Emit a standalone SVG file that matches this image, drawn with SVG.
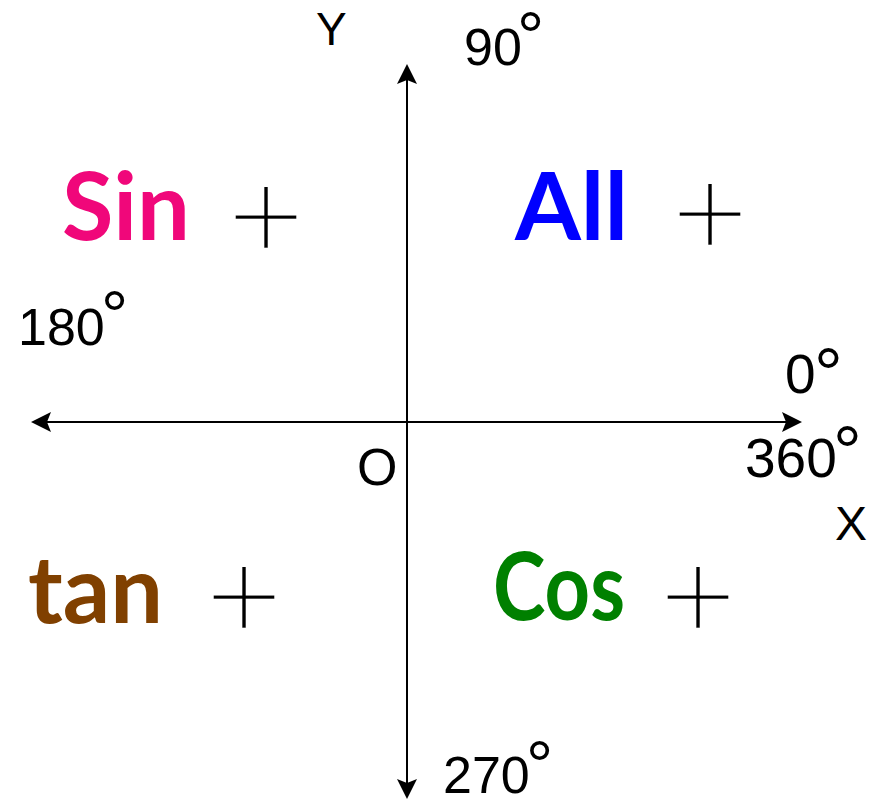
<svg xmlns="http://www.w3.org/2000/svg" width="881" height="800" viewBox="0 0 881 800">
<style>
.ax{stroke:#000;stroke-width:2;fill:none}
.lbl{font-family:"Liberation Sans",Arial,sans-serif;fill:#000}
.deg{font-family:"Liberation Sans",Arial,sans-serif}
.big{font-family:Lato,"DejaVu Sans",sans-serif;font-weight:bold;font-size:93px}
.plus{font-family:"Liberation Sans",Arial,sans-serif;font-size:138px;fill:#000;stroke:#fff;stroke-width:6.4}
</style>
<defs>
<marker id="ah" viewBox="0 0 20 20" refX="18" refY="10" markerWidth="20" markerHeight="20" markerUnits="userSpaceOnUse" orient="auto">
<path d="M0,0 L20,10 L0,20 L4,10 Z" fill="#000"/>
</marker>
</defs>
<rect width="881" height="800" fill="#fff"/>
<g id="connectors">
<line class="ax" x1="407" y1="422" x2="407" y2="66" marker-end="url(#ah)"/>
<line class="ax" x1="407" y1="422" x2="407" y2="797" marker-end="url(#ah)"/>
<line class="ax" x1="407" y1="422" x2="33" y2="422" marker-end="url(#ah)"/>
<line class="ax" x1="407" y1="422" x2="800" y2="422" marker-end="url(#ah)"/>
</g>
<g id="axis-labels">
<text class="lbl" x="316" y="45" font-size="46">Y</text>
<text class="lbl" x="835" y="540" font-size="48">X</text>
<text class="lbl" x="357" y="485" font-size="52">O</text>
</g>
<g id="angles">
<text class="lbl" x="464" y="65" font-size="52">90<tspan class="deg" x="517" y="60" font-size="68">°</tspan></text>
<text class="lbl" x="18" y="345" font-size="52">180<tspan class="deg" x="101" y="339" font-size="68">°</tspan></text>
<text class="lbl" x="785" y="393" font-size="55">0<tspan class="deg" x="814" y="398" font-size="72">°</tspan></text>
<text class="lbl" x="745" y="477" font-size="55">360<tspan class="deg" x="833" y="476" font-size="72">°</tspan></text>
<text class="lbl" x="443" y="793" font-size="52">270<tspan class="deg" x="526" y="789" font-size="68">°</tspan></text>
</g>
<g id="q2">
<text class="big" x="62" y="240" fill="#F0077A" textLength="128" lengthAdjust="spacingAndGlyphs">Sin</text>
<text class="plus" x="225.7" y="263.4">+</text>
</g>
<g id="q1">
<text class="big" x="515" y="240" fill="#0000FF" textLength="113" lengthAdjust="spacingAndGlyphs">All</text>
<text class="plus" x="669.7" y="260.4">+</text>
</g>
<g id="q3">
<text class="big" x="28" y="623" fill="#804000" textLength="135" lengthAdjust="spacingAndGlyphs">tan</text>
<text class="plus" x="203.7" y="643.4">+</text>
</g>
<g id="q4">
<text class="big" x="493" y="620" fill="#008000" textLength="132" lengthAdjust="spacingAndGlyphs">Cos</text>
<text class="plus" x="657.7" y="643.4">+</text>
</g>
</svg>
